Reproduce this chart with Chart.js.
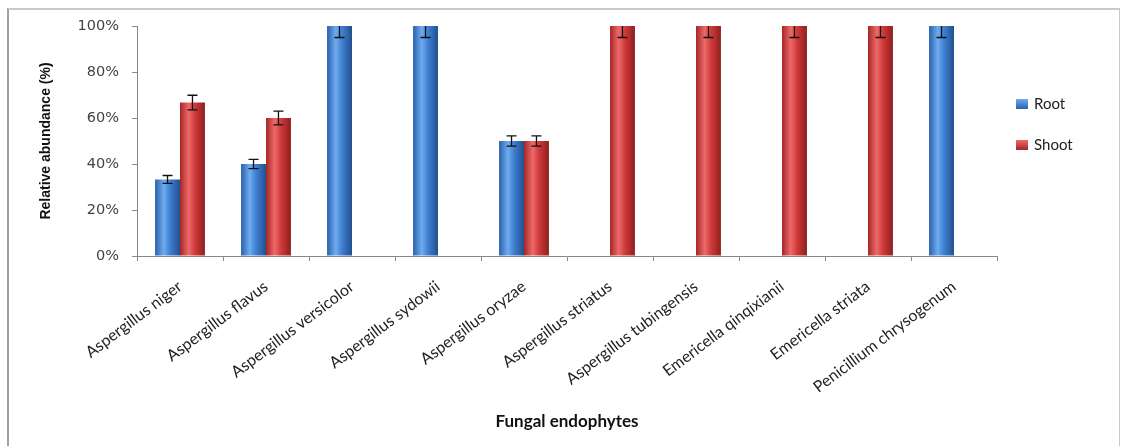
<!DOCTYPE html>
<html>
<head>
<meta charset="utf-8">
<script src="https://cdn.jsdelivr.net/npm/chart.js@4"></script>
<style>
  html, body { margin: 0; padding: 0; background: #fff; }
  #wrap { position: relative; width: 1123px; height: 446px; }
  #frame { position: absolute; left: 7px; top: 8px; width: 1110px; height: 445px;
           border-left: 2px solid #a0a0a0; border-top: 2px solid #c8c8c8; border-right: 1px solid #c8c8c8; }
  canvas { position: absolute; left: 0; top: 0; }
</style>
</head>
<body>
<div id="wrap">
  <div id="frame"></div>
  <canvas id="chart" width="1123" height="446"></canvas>
</div>
<script>
// Dane
const categories = ['Aspergillus niger', 'Aspergillus flavus', 'Aspergillus versicolor', 'Aspergillus sydowii',
  'Aspergillus oryzae', 'Aspergillus striatus', 'Aspergillus tubingensis', 'Emericella qinqixianii',
  'Emericella striata', 'Penicillium chrysogenum'];
const rootValues  = [33.3, 40, 100, 100, 50, 0, 0, 0, 0, 100];
const shootValues = [66.7, 60, 0, 0, 50, 100, 100, 100, 100, 0];
const rootErr  = [1.7, 2, 5, 5, 2.2, 0, 0, 0, 0, 5];
const shootErr = [3.2, 3, 0, 0, 2.2, 5, 5, 5, 5, 0];
const yTicks = [0, 20, 40, 60, 80, 100];

const blue = ['#2b60ab', '#6eacf0', '#3f7fd0', '#22508f'];
const red  = ['#a52626', '#ee6a6a', '#d03a3a', '#8e1f1f'];
const catPct = 0.58;

/**
 * Gradient "walcowy" liczony z osi X dla każdego słupka
 */
function barShade(context) {
  const chart = context.chart;
  const c = context.datasetIndex === 0 ? blue : red;
  const x = chart.scales && chart.scales.x;
  if (!chart.chartArea || !x || context.dataIndex === undefined) return c[2];
  const bw = (x.width / categories.length) * catPct / 2;
  const cx = x.getPixelForValue(context.dataIndex) + (context.datasetIndex === 0 ? -bw / 2 : bw / 2);
  const g = chart.ctx.createLinearGradient(cx - bw / 2, 0, cx + bw / 2, 0);
  g.addColorStop(0, c[0]);
  g.addColorStop(0.35, c[1]);
  g.addColorStop(0.6, c[2]);
  g.addColorStop(1, c[3]);
  return g;
}

/**
 * Słupki błędów + legenda
 */
const errorPlugin = {
  id: 'errorPlugin',
  afterDatasetsDraw(chart) {
    const {ctx, chartArea, scales} = chart;
    const errs = [rootErr, shootErr];
    ctx.save();
    ctx.beginPath();
    ctx.rect(chartArea.left, chartArea.top, chartArea.right - chartArea.left, chartArea.bottom - chartArea.top);
    ctx.clip();
    ctx.strokeStyle = '#111';
    ctx.lineWidth = 1.3;
    chart.data.datasets.forEach((ds, i) => {
      const meta = chart.getDatasetMeta(i);
      meta.data.forEach((el, j) => {
        const v = ds.data[j], e = errs[i][j];
        if (!v || !e) return;
        const yHi = scales.y.getPixelForValue(v + e);
        const yLo = scales.y.getPixelForValue(v - e);
        ctx.beginPath();
        ctx.moveTo(el.x, yHi); ctx.lineTo(el.x, yLo);
        ctx.moveTo(el.x - 5, yHi); ctx.lineTo(el.x + 5, yHi);
        ctx.moveTo(el.x - 5, yLo); ctx.lineTo(el.x + 5, yLo);
        ctx.stroke();
      });
    });
    ctx.restore();
  },
  afterDraw(chart) {
    const ctx = chart.ctx;
    ctx.save();
    ctx.font = '15px Lato, sans-serif';
    ctx.textBaseline = 'middle';
    chart.data.datasets.forEach((ds, i) => {
      const y = 104 + i * 41;
      const c = i === 0 ? blue : red;
      const g = ctx.createLinearGradient(0, y - 5, 0, y + 5);
      g.addColorStop(0, c[1]); g.addColorStop(1, c[0]);
      ctx.fillStyle = g;
      ctx.fillRect(1016, y - 5, 12, 10);
      ctx.fillStyle = '#222';
      ctx.fillText(ds.label, 1034, y);
    });
    ctx.restore();
  }
};

new Chart(document.getElementById('chart').getContext('2d'), {
  type: 'bar',
  data: {
    labels: categories,
    datasets: [
      { label: 'Root', data: rootValues, backgroundColor: barShade, borderWidth: 0,
        categoryPercentage: catPct, barPercentage: 1 },
      { label: 'Shoot', data: shootValues, backgroundColor: barShade, borderWidth: 0,
        categoryPercentage: catPct, barPercentage: 1 }
    ]
  },
  options: {
    responsive: false,
    animation: false,
    layout: { padding: { left: 38, top: 26, right: 126, bottom: 0 } },
    plugins: {
      legend: { display: false },
      tooltip: { enabled: false }
    },
    scales: {
      x: {
        grid: { display: true, drawOnChartArea: false, offset: true, tickLength: 5, color: '#888' },
        border: { color: '#888' },
        ticks: { minRotation: 37, maxRotation: 37, autoSkip: false, padding: 16, color: '#222',
                 font: { family: 'Lato, sans-serif', size: 16 } },
        title: { display: true, text: 'Fungal endophytes', color: '#111',
                 font: { family: 'Lato, sans-serif', size: 17, weight: 'bold' },
                 padding: { top: 0, bottom: 14 } },
        afterFit(scale) { scale.height = 190; }
      },
      y: {
        min: 0, max: 100,
        afterBuildTicks(scale) { scale.ticks = yTicks.map(v => ({ value: v })); },
        grid: { display: true, drawOnChartArea: false, tickLength: 5, color: '#888' },
        border: { color: '#888' },
        ticks: { padding: 13, color: '#444', callback: v => v + '%',
                 font: { family: '"DejaVu Sans", sans-serif', size: 14.5 } },
        title: { display: true, text: 'Relative abundance (%)', color: '#111',
                 font: { family: '"Liberation Sans Narrow", "Liberation Sans", sans-serif', size: 14, weight: 'bold' },
                 padding: { top: 0, bottom: 0 } },
        afterFit(scale) { scale.width = 99; }
      }
    }
  },
  plugins: [errorPlugin]
});
</script>
</body>
</html>
